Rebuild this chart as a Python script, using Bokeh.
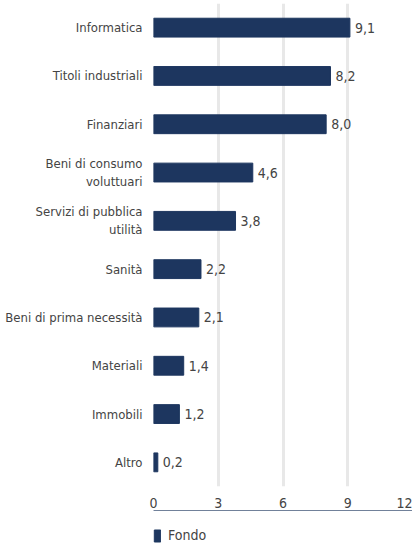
from bokeh.plotting import figure
from bokeh.layouts import column
from bokeh.models import FactorRange, Range1d, FixedTicker, ColumnDataSource, Legend, LegendItem
from bokeh.core.properties import value
from bokeh.embed import file_html
from bokeh.resources import INLINE

categories = ["Informatica", "Titoli industriali", "Finanziari", "Beni di consumo\nvoluttuari",
              "Servizi di pubblica\nutilità", "Sanità", "Beni di prima necessità",
              "Materiali", "Immobili", "Altro"]
values = [9.1, 8.2, 8.0, 4.6, 3.8, 2.2, 2.1, 1.4, 1.2, 0.2]
x_ticks = [0, 3, 6, 9, 12]
series_name = "Fondo"

FONT = "'DejaVu Sans Condensed', 'Liberation Sans Narrow', sans-serif"
BAR = "#1d365f"
TXT = "#444444"

labels = [f"{v:.1f}".replace(".", ",") for v in values]
src = ColumnDataSource(dict(cat=categories, val=values, lab=labels))

p = figure(width=412, height=510, output_backend="svg", toolbar_location=None,
           y_range=FactorRange(factors=categories[::-1], range_padding=0),
           x_range=Range1d(0, 12),
           min_border_left=153, min_border_right=0, min_border_top=3, min_border_bottom=22)
p.outline_line_color = None
p.background_fill_color = "white"
p.border_fill_color = "white"

r = p.hbar(y="cat", right="val", left=0, height=0.39, source=src, color=BAR)
p.text(x="val", y="cat", text="lab", source=src, x_offset=5, text_baseline="middle",
       text_align="left", text_font=value(FONT), text_font_size="14px", text_color=TXT)

p.xaxis.ticker = FixedTicker(ticks=x_ticks)
p.xaxis.axis_line_color = None
p.xaxis.major_tick_line_color = None
p.xaxis.minor_tick_line_color = None
p.xaxis.major_label_text_font = FONT
p.xaxis.major_label_text_font_size = "14px"
p.xaxis.major_label_text_color = TXT
p.xaxis.major_label_standoff = 5

p.yaxis.axis_line_color = None
p.yaxis.major_tick_line_color = None
p.yaxis.minor_tick_line_color = None
p.yaxis.major_label_text_font = FONT
p.yaxis.major_label_text_font_size = "13px"
p.yaxis.major_label_text_color = TXT
p.yaxis.major_label_standoff = 5

p.ygrid.grid_line_color = None
p.xgrid.grid_line_color = "#e8e8e8"
p.xgrid.grid_line_width = 3

# legend figure below the chart
lg = figure(width=412, height=33, output_backend="svg", toolbar_location=None,
            x_range=Range1d(0, 1), y_range=Range1d(0, 1),
            min_border_left=0, min_border_right=0, min_border_top=0, min_border_bottom=0)
lg.axis.visible = False
lg.grid.visible = False
lg.outline_line_color = None
lr = lg.hbar(y=[5], right=[1], left=0, height=0.5, color=BAR)  # out of view, legend swatch only
legend = Legend(items=[LegendItem(label=series_name, renderers=[lr])],
                location=(0, 0), glyph_width=8, glyph_height=15,
                label_text_font=FONT, label_text_font_size="14px", label_text_color=TXT,
                border_line_color=None, background_fill_alpha=0, padding=0, margin=0,
                label_standoff=7)
lg.add_layout(legend, "center")

layout = column(p, lg, spacing=0)
open("out.html", "w").write(file_html(layout, INLINE))
